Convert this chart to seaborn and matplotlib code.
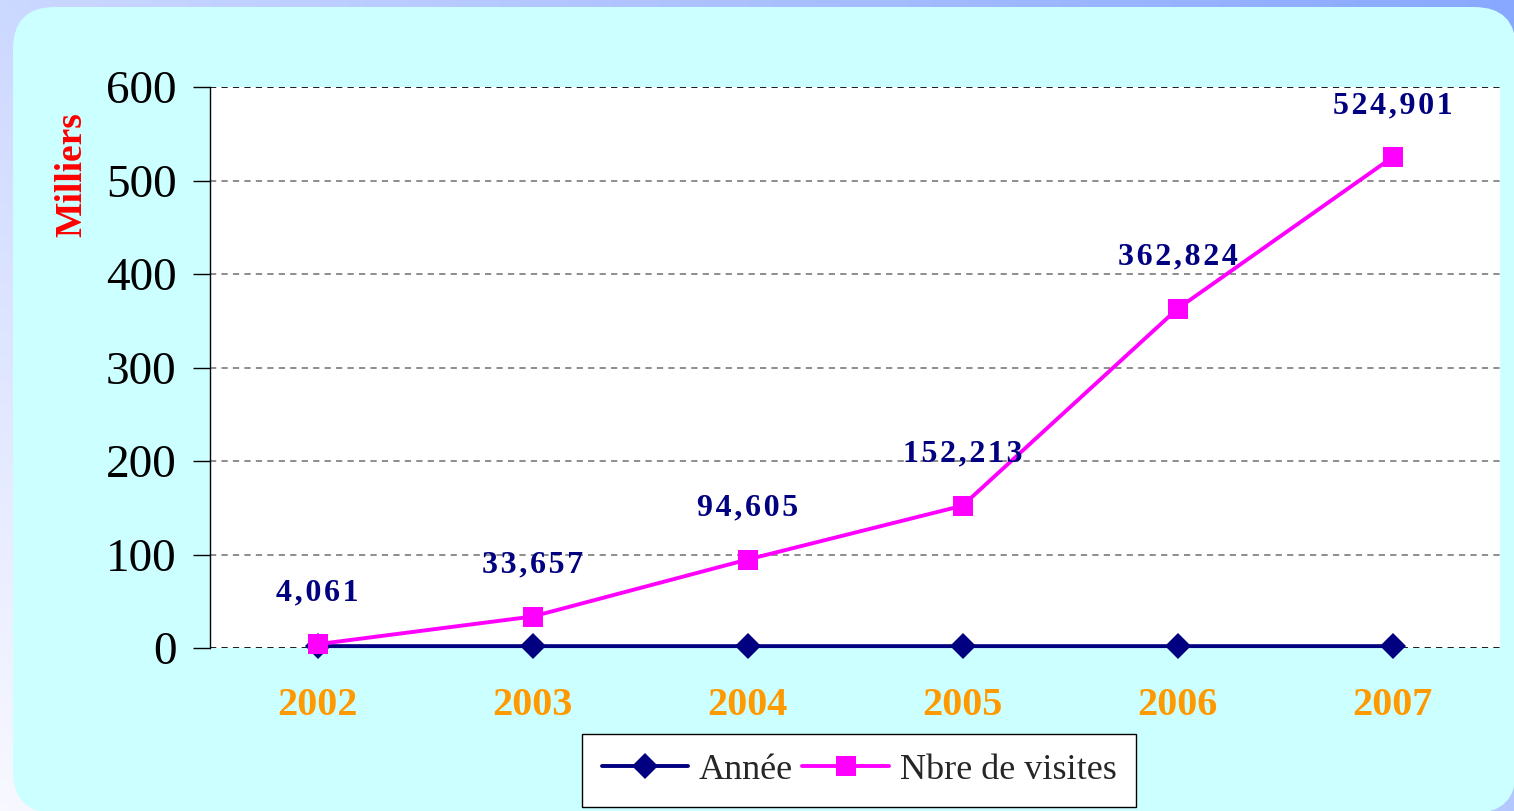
import matplotlib as mpl
mpl.use('Agg')  # no display

import matplotlib.pyplot as plt
from matplotlib.patches import FancyBboxPatch
import numpy as np
import pandas as pd
import seaborn as sns

# data (values in thousands on the y axis)
years = ['2002', '2003', '2004', '2005', '2006', '2007']
annee_values = [2002, 2003, 2004, 2005, 2006, 2007]
visits = [4061, 33657, 94605, 152213, 362824, 524901]
series_names = ['Année', 'Nbre de visites']
y_ticks = [0, 100, 200, 300, 400, 500, 600]

navy = '#000080'
magenta = '#ff00ff'
orange = '#ff9900'

W, H = 1514, 811


def spaced(s):
    # letter-spaced labels, like the original data labels
    return '\u200a'.join(s)


def main():
    sns.set_style('white')
    plt.rcParams['font.family'] = ['Liberation Serif', 'DejaVu Serif']

    fig = plt.figure(figsize=(W / 100, H / 100), dpi=100)

    # background: lavender gradient + rounded cyan panel
    bg = fig.add_axes([0, 0, 1, 1], zorder=0)
    gx, gy = np.meshgrid(np.linspace(0, 1, 200), np.linspace(0, 1, 100))
    t = 0.6 * gx + 0.4 * (1 - gy)
    c0 = np.array([248, 248, 255]) / 255
    c1 = np.array([136, 168, 255]) / 255
    grad = c0[None, None, :] * (1 - t[..., None]) + c1[None, None, :] * t[..., None]
    bg.imshow(grad, extent=[0, W, H, 0], aspect='auto')
    bg.add_patch(FancyBboxPatch((13, 7), W - 13 + 2, H - 7 + 2,
                                boxstyle='round,pad=0,rounding_size=42',
                                facecolor='#ccffff', edgecolor='none'))
    bg.set_xlim(0, W)
    bg.set_ylim(H, 0)
    bg.axis('off')

    ax = fig.add_axes([210 / W, 1 - 648 / H, (1500 - 210) / W, (648 - 87) / H], zorder=1)
    ax.set_facecolor('white')

    df = pd.DataFrame({
        'annee': years * 2,
        'serie': [series_names[0]] * len(years) + [series_names[1]] * len(years),
        'valeur': [a / 1000 for a in annee_values] + [v / 1000 for v in visits],
    })

    sns.lineplot(data=df, x='annee', y='valeur', hue='serie', style='serie',
                 markers={series_names[0]: 'D', series_names[1]: 's'}, dashes=False,
                 palette={series_names[0]: navy, series_names[1]: magenta},
                 linewidth=2.8, markersize=14, markeredgewidth=0, sort=False,
                 clip_on=False, ax=ax)
    for line in ax.lines:
        if line.get_marker() == 's':
            line.set_markersize(15)
        elif line.get_marker() == 'D':
            line.set_markersize(13)

    for i, v in enumerate(visits):
        ax.annotate(spaced('{:,}'.format(v)), (i, v / 1000), xytext=(0, 37),
                    textcoords='offset points', ha='center', va='center',
                    fontsize=23, fontweight='bold', color=navy)

    ax.set_xlim(-0.5, len(years) - 0.5)
    ax.set_ylim(0, 600)
    ax.set_yticks(y_ticks)
    ax.grid(axis='y', linestyle=(0, (3.6, 3.0)), color='#808080', linewidth=1.25)
    ax.grid(axis='x', visible=False)
    for tick_val, gl in zip(y_ticks, ax.get_ygridlines()):
        if tick_val in (0, 600):
            gl.set_color('black')

    for side in ['top', 'right', 'bottom']:
        ax.spines[side].set_visible(False)
    ax.spines['left'].set_color('black')
    ax.spines['left'].set_linewidth(1)

    ax.tick_params(axis='y', length=12, width=1, color='black', direction='out', pad=12,
                   labelsize=34, labelcolor='black', left=True)
    ax.tick_params(axis='x', length=0, pad=28, labelsize=29, labelcolor=orange)
    for lab in ax.get_xticklabels():
        lab.set_fontweight('bold')
    ax.set_xlabel('')
    ax.set_ylabel('')

    fig.text(72 / W, 1 - 175 / H, 'Milliers', rotation=90, color='red', fontweight='bold',
             fontsize=27, ha='center', va='center')

    handles, labels = ax.get_legend_handles_labels()
    ax.get_legend().remove()
    leg = fig.legend(handles, labels, loc='center', bbox_to_anchor=(859 / W, 1 - 770 / H),
                     ncol=2, frameon=True, fancybox=False, edgecolor='black', framealpha=1,
                     fontsize=26, handlelength=2.4, columnspacing=0.25, handletextpad=0.3,
                     borderpad=0.55, borderaxespad=0)
    leg.get_frame().set_linewidth(1)

    fig.savefig('out.png', dpi=100)


if __name__ == '__main__':
    main()
